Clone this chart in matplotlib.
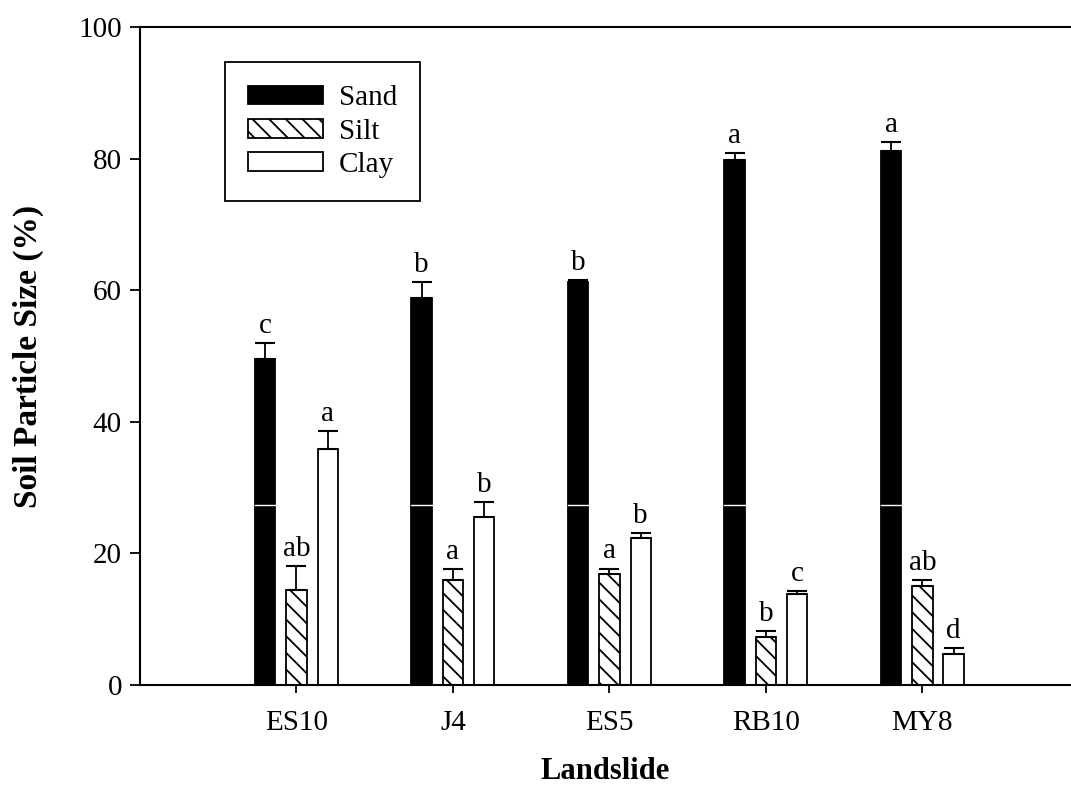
import matplotlib
matplotlib.use("Agg")
import matplotlib.pyplot as plt
import numpy as np

plt.rcParams['font.family'] = ['Liberation Serif', 'DejaVu Serif']
plt.rcParams['hatch.linewidth'] = 1.3

# data
sites = ['ES10', 'J4', 'ES5', 'RB10', 'MY8']
sand = [49.6, 58.8, 61.3, 79.8, 81.2]
sand_err = [2.3, 2.4, 0.2, 1.1, 1.3]
silt = [14.5, 16.0, 16.8, 7.3, 15.0]
silt_err = [3.6, 1.6, 0.9, 0.9, 1.0]
clay = [35.8, 25.5, 22.3, 13.8, 4.7]
clay_err = [2.8, 2.3, 0.8, 0.5, 0.9]
sand_let = ['c', 'b', 'b', 'a', 'a']
silt_let = ['ab', 'a', 'a', 'b', 'ab']
clay_let = ['a', 'b', 'b', 'c', 'd']

fig = plt.figure(figsize=(10.71, 7.87), dpi=100)
ax = fig.add_axes([0.1307, 0.1296, 0.8693, 0.8361])

x = np.arange(len(sites))
w = 0.13
off = 0.2

groups = [
    (sand, sand_err, sand_let, -off, dict(color='black', edgecolor='black'), 'Sand'),
    (silt, silt_err, silt_let, 0, dict(color='white', edgecolor='black', hatch='\\\\'), 'Silt'),
    (clay, clay_err, clay_let, off, dict(color='white', edgecolor='black'), 'Clay'),
]

for vals, errs, lets, o, style, name in groups:
    ax.bar(x + o, vals, w, linewidth=1.3, label=name, zorder=2, **style)
    ax.errorbar(x + o, vals, yerr=[np.zeros(len(vals)), errs], fmt='none',
                ecolor='black', elinewidth=1.3, capsize=7, capthick=1.5, zorder=3)
    for xi, v, e, t in zip(x + o, vals, errs, lets):
        ax.annotate(t, (xi, v + e), xytext=(0, 3), textcoords='offset points',
                    ha='center', va='bottom', fontsize=21)

# scanning streak on the black bars
for xi in x - off:
    ax.plot([xi - w / 2, xi + w / 2], [27.3, 27.3], color='white', linewidth=1, zorder=4)

ax.set_xlim(-1, 4.95)
ax.set_ylim(0, 100)
ax.set_xticks(x)
ax.set_xticklabels(sites)
ax.set_yticks([0, 20, 40, 60, 80, 100])
ax.tick_params(axis='both', direction='out', length=7, width=1.3, labelsize=21)
ax.tick_params(axis='x', length=6, pad=12)
ax.tick_params(axis='y', pad=6)
ax.spines['right'].set_visible(False)
for s in ['left', 'top', 'bottom']:
    ax.spines[s].set_linewidth(1.5)

ax.set_ylabel('Soil Particle Size (%)', fontsize=24, fontweight='bold', labelpad=25)
ax.set_xlabel('Landslide', fontsize=22, fontweight='bold', labelpad=15)

leg = ax.legend(loc='upper left', bbox_to_anchor=(0.0913, 0.9468), fontsize=21,
                fancybox=False, edgecolor='black', framealpha=1,
                handlelength=2.55, handleheight=0.6, labelspacing=0.25,
                borderpad=0.8, handletextpad=0.55, borderaxespad=0)
leg.get_frame().set_linewidth(1.3)

fig.savefig('out.png', dpi=100)
